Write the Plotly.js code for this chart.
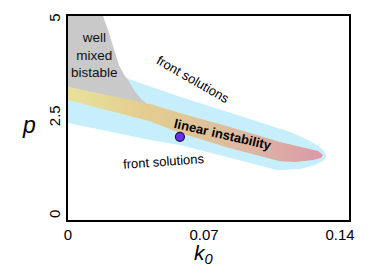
<!DOCTYPE html>
<html>
<head>
<meta charset="utf-8">
<script src="https://cdn.plot.ly/plotly-3.0.1.min.js"></script>
<style>html,body{margin:0;padding:0;background:#fff;}#chart{width:374px;height:278px;}</style>
</head>
<body>
<div id="chart"></div>
<script>
// Region boundaries (k0, p)
const frontK = [0, 0.0309, 0.0576, 0.0921, 0.1143, 0.1235, 0.1287, 0.1318, 0.1328, 0.1318, 0.1271, 0.1194, 0.1076, 0.0937, 0.0576, 0.0422, 0];
const frontP = [4.03, 3.49, 3.04, 2.50, 2.14, 1.94, 1.79, 1.66, 1.53, 1.43, 1.30, 1.20, 1.17, 1.35, 1.81, 1.94, 2.37];

const wellK = [0, 0.0180, 0.0206, 0.0232, 0.0262, 0.0288, 0.0309, 0.0340, 0.0381, 0.0407, 0];
const wellP = [5.10, 5.10, 4.74, 4.31, 3.85, 3.60, 3.47, 3.21, 2.96, 2.86, 3.29];

const linK = [0, 0.0422, 0.0576, 0.0834, 0.1091, 0.1230, 0.1287, 0.1312, 0.1302, 0.1261, 0.1168, 0.1091, 0.0834, 0.0576, 0.0422, 0];
const linP = [3.29, 2.86, 2.63, 2.27, 1.89, 1.73, 1.66, 1.56, 1.48, 1.43, 1.38, 1.40, 1.73, 2.12, 2.42, 2.96];

const pointK = [0.0576];
const pointP = [2.02];

const xTicks = [0, 0.07, 0.14];
const xTickText = ['0', '0.07', '0.14'];
const yTicks = [0, 2.5, 5];
const yTickText = ['0', '2.5', '5'];

const FONT = 'Liberation Sans, Arial, Helvetica, sans-serif';

const traces = [
  {x: frontK, y: frontP, type: 'scatter', mode: 'lines', fill: 'toself',
   fillcolor: '#c6effb', line: {width: 0}, hoverinfo: 'skip'},
  {x: wellK, y: wellP, type: 'scatter', mode: 'lines', fill: 'toself',
   fillcolor: '#c9c9c9', line: {width: 0}, hoverinfo: 'skip'},
  {x: linK, y: linP, type: 'scatter', mode: 'lines', fill: 'toself',
   line: {width: 0}, hoverinfo: 'skip',
   fillgradient: {type: 'horizontal', start: 0, stop: 0.1312,
     colorscale: [[0, '#e8e19c'], [0.3, '#e4cd8e'], [0.5, '#dfc59a'], [0.75, '#ddb3a4'], [1, '#db98a8']]}},
  {x: pointK, y: pointP, type: 'scatter', mode: 'markers',
   marker: {size: 9, color: '#6b2ff2', line: {color: '#1a1040', width: 1.2}}, hoverinfo: 'skip'}
];

const layout = {
  width: 374, height: 278,
  margin: {l: 68, r: 25, t: 16, b: 58},
  paper_bgcolor: '#fff', plot_bgcolor: '#fff',
  showlegend: false,
  font: {family: FONT, color: '#000', size: 14},
  xaxis: {range: [0, 0.1446], tickvals: xTicks, ticktext: xTickText, ticks: '',
    showgrid: false, zeroline: false, showline: true, linecolor: '#000', linewidth: 2, mirror: true,
    tickfont: {size: 15, family: FONT, color: '#000'}, fixedrange: true},
  yaxis: {range: [-0.1, 5.1], tickvals: yTicks, ticktext: yTickText, ticks: '', tickangle: -90,
    showgrid: false, zeroline: false, showline: true, linecolor: '#000', linewidth: 2, mirror: true,
    tickfont: {size: 15, family: FONT, color: '#000'}, fixedrange: true},
  annotations: [
    {x: 0.0134, y: 4.11, xref: 'x', yref: 'y', xanchor: 'center', yanchor: 'middle',
     text: 'well<br>mixed<br>bistable', showarrow: false,
     font: {size: 13.5, family: FONT, color: '#111'}},
    {x: 0.0643, y: 3.47, xref: 'x', yref: 'y', xanchor: 'center', yanchor: 'middle',
     text: 'front solutions', showarrow: false, textangle: 30,
     font: {size: 13, family: FONT, color: '#000'}},
    {x: 0.0798, y: 2.07, xref: 'x', yref: 'y', xanchor: 'center', yanchor: 'middle',
     text: '<b>linear instability</b>', showarrow: false, textangle: 13,
     font: {size: 13, family: FONT, color: '#000'}},
    {x: 0.0489, y: 1.40, xref: 'x', yref: 'y', xanchor: 'center', yanchor: 'middle',
     text: 'front solutions', showarrow: false, textangle: -4,
     font: {size: 13, family: FONT, color: '#000'}},
    {x: -0.139, y: 0.466, xref: 'paper', yref: 'paper', xanchor: 'center', yanchor: 'middle',
     text: '<i>p</i>', showarrow: false,
     font: {size: 23, family: FONT, color: '#000'}},
    {x: 0.07, y: -0.165, xref: 'x', yref: 'paper', xanchor: 'center', yanchor: 'middle',
     text: '<i>k<sub>0</sub></i>', showarrow: false,
     font: {size: 21, family: FONT, color: '#000'}}
  ]
};

Plotly.newPlot('chart', traces, layout, {staticPlot: true, displayModeBar: false});
</script>
</body>
</html>
